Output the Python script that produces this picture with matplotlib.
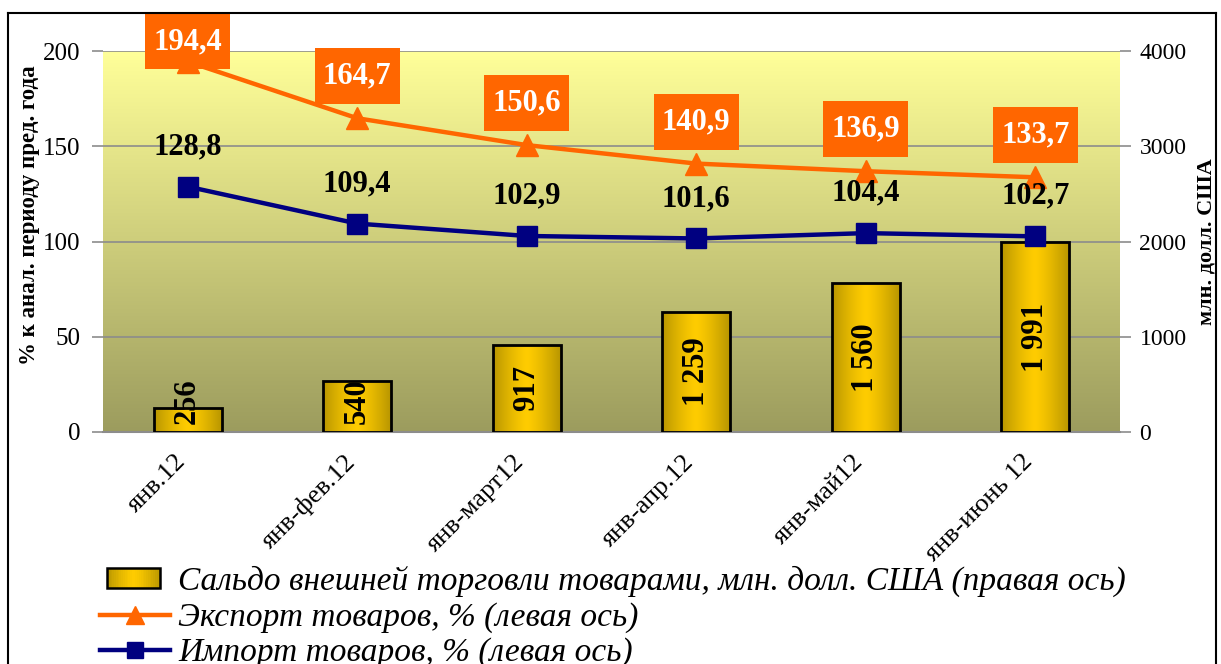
import numpy as np
import matplotlib
matplotlib.use("Agg")
import matplotlib.pyplot as plt
from matplotlib.patches import Rectangle
from matplotlib.lines import Line2D
from matplotlib.path import Path
from matplotlib.legend_handler import HandlerBase
from matplotlib.transforms import ScaledTranslation

categories = ["янв.12", "янв-фев.12", "янв-март12", "янв-апр.12", "янв-май12", "янв-июнь 12"]
balance = [256, 540, 917, 1259, 1560, 1991]          # right axis, mln USD
export_pct = [194.4, 164.7, 150.6, 140.9, 136.9, 133.7]
import_pct = [128.8, 109.4, 102.9, 101.6, 104.4, 102.7]
left_ticks = [0, 50, 100, 150, 200]
right_ticks = [0, 1000, 2000, 3000, 4000]

legend_labels = ["Сальдо внешней торговли товарами, млн. долл. США (правая ось)",
                 "Экспорт товаров, % (левая ось)",
                 "Импорт товаров, % (левая ось)"]

plt.rcParams['font.family'] = ['Liberation Serif', 'DejaVu Serif']

W, H = 1221, 664
fig = plt.figure(figsize=(W / 100, H / 100), dpi=100)
fig.patch.set_facecolor('white')

# frame
fig.add_artist(Line2D([8 / W, 8 / W], [0, 1 - 13 / H], transform=fig.transFigure, color='black', lw=1.5))
fig.add_artist(Line2D([8 / W, 1216 / W], [1 - 13 / H, 1 - 13 / H], transform=fig.transFigure, color='black', lw=1.5))
fig.add_artist(Line2D([1216 / W, 1216 / W], [0, 1 - 13 / H], transform=fig.transFigure, color='black', lw=1.5))

left, right, top, bottom = 103 / W, 1120 / W, 1 - 51 / H, 1 - 432 / H
ax2 = fig.add_axes([left, bottom, right - left, top - bottom])
ax = ax2.twinx()
ax.set_zorder(ax2.get_zorder() + 1)
ax.patch.set_visible(False)
ax.yaxis.tick_left(); ax.yaxis.set_label_position('left')
ax2.yaxis.tick_right(); ax2.yaxis.set_label_position('right')

x = np.arange(len(categories))
ax2.set_xlim(-0.5, len(categories) - 0.5)
ax2.set_ylim(0, 4000)
ax.set_ylim(0, 200)

# background gradient
top_c = np.array([255, 255, 153]) / 255
bot_c = np.array([156, 156, 94]) / 255
t = np.linspace(0, 1, 256)[:, None]
grad = (top_c * (1 - t) + bot_c * t)[:, None, :]
ax2.imshow(grad, extent=[-0.5, len(categories) - 0.5, 0, 4000], aspect='auto', zorder=0, origin='upper')

ax2.set_yticks(right_ticks)
ax2.grid(axis='y', color='#8c8c8c', lw=1.2, zorder=1)
ax2.set_axisbelow(True)

# bars with horizontal gradient
bw = 0.4
edge_c = np.array([184, 150, 0]) / 255
mid_c = np.array([255, 204, 0]) / 255
s = np.linspace(-1, 1, 200)
wgt = np.abs(s) ** 1.3
bgrad = (mid_c * (1 - wgt)[:, None] + edge_c * wgt[:, None])[None, :, :]
bars = ax2.bar(x, balance, width=bw, facecolor='none', edgecolor='black', lw=2, zorder=3)
for b in bars:
    x0, w_, h_ = b.get_x(), b.get_width(), b.get_height()
    im = ax2.imshow(bgrad, extent=[x0, x0 + w_, 0, h_], aspect='auto', zorder=2.5)
    im.set_clip_path(b)
ax2.set_xlim(-0.5, len(categories) - 0.5)
ax2.set_ylim(0, 4000)

# bar labels
for xi, v in zip(x, balance):
    lab = f"{v:,}".replace(",", " ")
    ax2.text(xi, max(v / 2, 325), lab, rotation=90, ha='center', va='center',
             fontsize=22, fontweight='bold', color='black', zorder=5)

# lines
ax.plot(x, export_pct, color='#FF6600', lw=3.2, marker='^', ms=16, zorder=6, clip_on=False)
ax.plot(x, import_pct, color='#000080', lw=3.2, marker='s', ms=14, zorder=6, clip_on=False)


def label_box(x0, y0, width, height, mutation_size):
    px = 0.27 * mutation_size
    py = 0.44 * mutation_size
    xa, ya, xb, yb = x0 - px, y0 - py, x0 + width + px, y0 + height + py
    return Path([(xa, ya), (xb, ya), (xb, yb), (xa, yb), (xa, ya)], closed=True)


for xi, v in zip(x, export_pct):
    ax.text(xi, min(v + 22, 205), f"{v:.1f}".replace(".", ","), ha='center', va='center',
            fontsize=22, fontweight='bold', color='white', zorder=8, clip_on=False,
            bbox=dict(boxstyle=label_box, fc='#FF6600', ec='none'))
for xi, v in zip(x, import_pct):
    ax.text(xi, v + 21, f"{v:.1f}".replace(".", ","), ha='center', va='center',
            fontsize=22, fontweight='bold', color='black', zorder=8, clip_on=False)

# axes styling
for a in (ax, ax2):
    for sp in a.spines.values():
        sp.set_visible(False)
ax2.spines['bottom'].set_visible(True)
ax2.spines['bottom'].set_color('#8c8c8c')
ax2.spines['bottom'].set_linewidth(1.5)

ax.set_yticks(left_ticks)
ax.tick_params(axis='y', which='both', direction='out', length=8, color='#8c8c8c', width=1.2,
               labelsize=18, pad=8)
ax2.tick_params(axis='y', which='both', direction='out', length=8, color='#8c8c8c', width=1.2,
                labelsize=17, pad=6)
ax2.set_xticks(x)
ax2.set_xticklabels(categories, rotation=45, ha='right', va='center', rotation_mode='anchor', fontsize=19)
ax2.tick_params(axis='x', length=0, pad=19)
for lbl in ax2.get_xticklabels():
    lbl.set_transform(lbl.get_transform() + ScaledTranslation(-4 / 72, 0, fig.dpi_scale_trans))

ax.set_ylabel("% к анал. периоду пред. года", fontsize=16.5, fontweight='bold')
ax.yaxis.set_label_coords(-0.062, 0.57)
ax2.set_ylabel("млн. долл. США", fontsize=16, fontweight='bold')
ax2.yaxis.set_label_coords(1.0757, 0.5)


# legend
class GradHandler(HandlerBase):
    def create_artists(self, legend, orig_handle, xdescent, ydescent, width, height, fontsize, trans):
        arts = []
        n = 30
        x0 = -xdescent + 5
        wd = width - 12
        for i in range(n):
            f = abs((i + 0.5) / n * 2 - 1) ** 1.3
            c = mid_c * (1 - f) + edge_c * f
            r = Rectangle((x0 + i * wd / n, -ydescent), wd / n, height,
                          facecolor=c, edgecolor='none', transform=trans)
            arts.append(r)
        arts.append(Rectangle((x0, -ydescent), wd, height, facecolor='none',
                              edgecolor='black', lw=1.8, transform=trans))
        return arts


bar_handle = Rectangle((0, 0), 1, 1)
exp_handle = Line2D([], [], color='#FF6600', lw=3.2, marker='^', ms=13)
imp_handle = Line2D([], [], color='#000080', lw=3.2, marker='s', ms=11)
leg = fig.legend([bar_handle, exp_handle, imp_handle], legend_labels,
                 handler_map={Rectangle: GradHandler()},
                 loc='upper left', bbox_to_anchor=(100 / W, 1 - 566 / H), frameon=False,
                 prop={'style': 'italic', 'size': 24}, handlelength=2.1, handleheight=0.55,
                 handletextpad=0.25, labelspacing=0.14, borderaxespad=0, borderpad=0)

fig.savefig("out.png", dpi=100)
